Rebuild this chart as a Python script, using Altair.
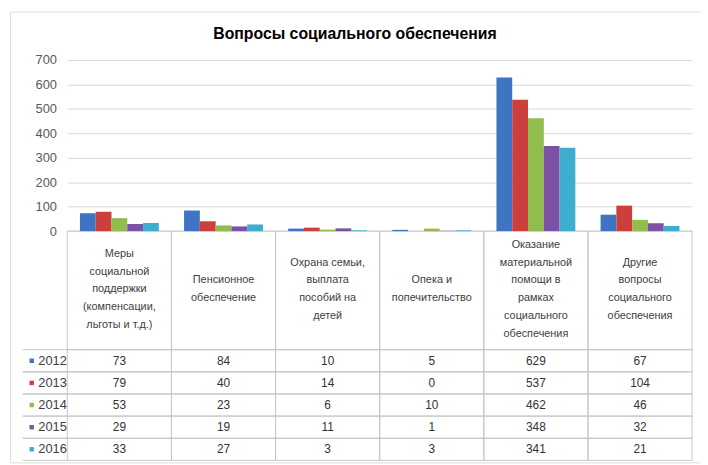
import altair as alt
import pandas as pd

# ---- data ----
cat_lines = [
    ["Меры", "социальной", "поддержки", "(компенсации,", "льготы и т.д.)"],
    ["Пенсионное", "обеспечение"],
    ["Охрана семьи,", "выплата", "пособий на", "детей"],
    ["Опека и", "попечительство"],
    ["Оказание", "материальной", "помощи в", "рамках", "социального", "обеспечения"],
    ["Другие", "вопросы", "социального", "обеспечения"],
]
years = ["2012", "2013", "2014", "2015", "2016"]
v2012 = [73, 84, 10, 5, 629, 67]
v2013 = [79, 40, 14, 0, 537, 104]
v2014 = [53, 23, 6, 10, 462, 46]
v2015 = [29, 19, 11, 1, 348, 32]
v2016 = [33, 27, 3, 3, 341, 21]
y_ticks = [0, 100, 200, 300, 400, 500, 600, 700]
colors = ["#3f74c2", "#cc3f3c", "#90bd4c", "#7b52a6", "#3eaed0"]
title_text = "Вопросы социального обеспечения"

cats = [" ".join(l) for l in cat_lines]
series = dict(zip(years, [v2012, v2013, v2014, v2015, v2016]))
df = pd.DataFrame(
    [{"cat": c, "year": y, "value": v} for y in years for c, v in zip(cats, series[y])]
)
hdr = pd.DataFrame({
    "cat": cats,
    "label": ["\n".join(l) for l in cat_lines],
    "shift": [-(len(l) - 1) / 2 for l in cat_lines],
})
yr = pd.DataFrame({"year": years})

LINE = "#c6c6c6"
FONT = "Liberation Sans"
LH = 18  # header line height

x_cat = alt.X(
    "cat:N", sort=cats,
    scale=alt.Scale(range=[58, 690], paddingInner=0, paddingOuter=0),
    axis=None,
)
y_val = alt.Y(
    "value:Q",
    scale=alt.Scale(domain=[0, 700], range=[222, 49], nice=False),
    axis=alt.Axis(
        orient="left", values=y_ticks, title=None, ticks=False, tickSize=0,
        domain=False, grid=True, gridColor="#d9d9d9", labelPadding=-47,
        labelFontSize=13, labelColor="#595959", labelFont=FONT,
    ),
)


def y_year(bp=None):
    kw = {}
    if bp is not None:
        kw["bandPosition"] = bp
    return alt.Y(
        "year:N", sort=years,
        scale=alt.Scale(domain=years, range=[342, 454], paddingInner=0, paddingOuter=0),
        axis=alt.Axis(
            orient="left", title=None, ticks=False, tickSize=0, domain=False,
            grid=False, labelPadding=-57, labelFontSize=13, labelColor="#404040",
            labelFont=FONT,
        ),
        **kw,
    )


color = alt.Color("year:N", sort=years, scale=alt.Scale(domain=years, range=colors), legend=None)

header_cells = alt.Chart(hdr).mark_rect(fillOpacity=0, stroke=LINE, strokeWidth=1).encode(
    x=x_cat, y=alt.value(222), y2=alt.value(342)
)
bars = alt.Chart(df).mark_bar().encode(
    x=x_cat,
    xOffset=alt.XOffset("year:N", sort=years, scale=alt.Scale(paddingInner=0, paddingOuter=0.8)),
    y=y_val,
    color=color,
)
top = alt.layer(header_cells, bars)

header_text = alt.Chart(hdr).mark_text(
    lineBreak="\n", lineHeight=LH, fontSize=11, color="#404040", baseline="middle", font=FONT
).encode(
    x=x_cat,
    y=alt.Y("shift:Q", scale=alt.Scale(domain=[-1, 1], range=[281 - LH, 281 + LH], nice=False, zero=False), axis=None),
    text="label:N",
)

table_cells = alt.Chart(df).mark_rect(fillOpacity=0, stroke=LINE, strokeWidth=1).encode(
    x=x_cat, y=y_year()
)
leg_top = alt.Chart(yr).mark_rule(color=LINE, strokeWidth=1).encode(
    y=y_year(0), x=alt.value(13), x2=alt.value(58)
)
leg_bot = alt.Chart(yr).mark_rule(color=LINE, strokeWidth=1).encode(
    y=y_year(1), x=alt.value(13), x2=alt.value(58)
)
values_text = alt.Chart(df).mark_text(fontSize=12, color="#333333", font=FONT).encode(
    x=x_cat, y=y_year(), text="value:Q"
)
squares = alt.Chart(yr).mark_square(size=20, opacity=1).encode(
    x=alt.value(22), y=y_year(), color=color
)
table = alt.layer(table_cells, leg_top, leg_bot, values_text, squares)

chart = (
    alt.layer(top, table, header_text)
    .resolve_scale(y="independent")
    .properties(
        width=698,
        height=456,
        padding={"left": 2, "top": 1, "right": 0, "bottom": 0},
        title=alt.TitleParams(
            title_text, fontSize=16, fontWeight="bold", color="#000000",
            anchor="middle", frame="group", offset=-31, font=FONT,
        ),
    )
    .configure_view(stroke="#cfcfcf", strokeWidth=1)
    .configure(font=FONT)
)

chart.save("out.html", embed_options={"renderer": "svg", "actions": False})
